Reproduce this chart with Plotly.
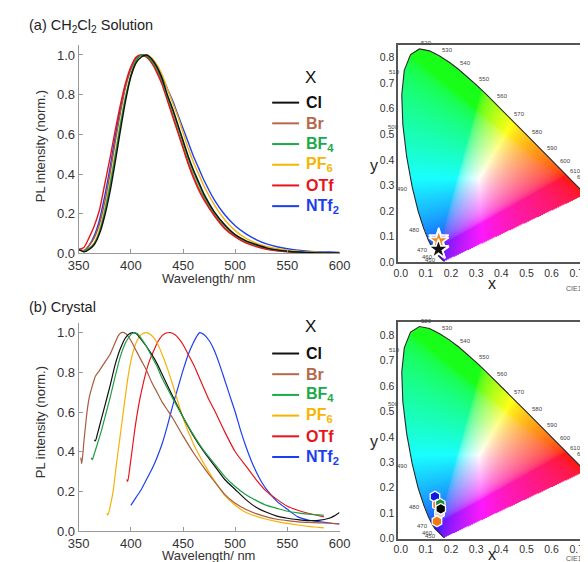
import numpy as np
import plotly.graph_objects as go
import zlib, struct, base64

# ---------------- data ----------------
SERIES = ["Cl", "Br", "BF4", "PF6", "OTf", "NTf2"]
LABELS = ["Cl", "Br", "BF<sub>4</sub>", "PF<sub>6</sub>", "OTf", "NTf<sub>2</sub>"]
COLORS = ["#111111", "#a85a3c", "#1f9e45", "#f5b20a", "#e8141c", "#1c3ff0"]
LEG_COLORS = ["#111111", "#b5694c", "#1aaa4a", "#f7b500", "#e8141c", "#1a3ff2"]

# (a) CH2Cl2 solution spectra
wl_sol = [350, 355, 360, 365, 370, 375, 380, 385, 390, 395, 400, 405, 410, 415, 420, 425,
          430, 435, 440, 445, 450, 455, 460, 465, 470, 480, 490, 500, 510, 520, 530, 540,
          550, 560, 570, 580, 590, 600]
sol_Cl = [0.02, 0.008, 0.02, 0.045, 0.10, 0.19, 0.31, 0.46, 0.62, 0.77, 0.89, 0.96, 0.99, 1.0,
          0.98, 0.94, 0.88, 0.80, 0.73, 0.65, 0.57, 0.49, 0.42, 0.36, 0.30, 0.21, 0.145, 0.095,
          0.065, 0.045, 0.028, 0.018, 0.011, 0.007, 0.005, 0.003, 0.002, 0.002]
sol_Br = [0.02, 0.015, 0.04, 0.08, 0.15, 0.26, 0.40, 0.56, 0.71, 0.84, 0.93, 0.98, 1.0, 0.99,
          0.96, 0.92, 0.86, 0.78, 0.70, 0.62, 0.54, 0.46, 0.39, 0.33, 0.28, 0.195, 0.13, 0.087,
          0.057, 0.037, 0.024, 0.015, 0.01, 0.006, 0.004, 0.003, 0.002, 0.002]
sol_BF4 = [0.02, 0.01, 0.025, 0.05, 0.11, 0.21, 0.34, 0.49, 0.65, 0.79, 0.90, 0.97, 1.0, 0.995,
           0.97, 0.93, 0.87, 0.79, 0.72, 0.64, 0.56, 0.48, 0.41, 0.35, 0.29, 0.205, 0.14, 0.093,
           0.062, 0.042, 0.027, 0.017, 0.011, 0.007, 0.005, 0.003, 0.002, 0.002]
sol_PF6 = [0.02, 0.01, 0.025, 0.055, 0.12, 0.22, 0.35, 0.50, 0.65, 0.79, 0.89, 0.96, 0.99, 1.0,
           0.985, 0.95, 0.90, 0.83, 0.76, 0.69, 0.61, 0.53, 0.46, 0.40, 0.34, 0.245, 0.17, 0.115,
           0.077, 0.052, 0.035, 0.024, 0.016, 0.011, 0.008, 0.006, 0.004, 0.003]
sol_OTf = [0.02, 0.03, 0.08, 0.14, 0.22, 0.35, 0.48, 0.62, 0.75, 0.86, 0.94, 0.99, 1.0, 0.99,
           0.96, 0.91, 0.85, 0.77, 0.69, 0.61, 0.53, 0.45, 0.38, 0.32, 0.27, 0.19, 0.125, 0.083,
           0.053, 0.034, 0.021, 0.013, 0.008, 0.005, 0.003, 0.002, 0.001, 0.001]
sol_NTf2 = [0.02, 0.01, 0.04, 0.09, 0.17, 0.29, 0.43, 0.59, 0.73, 0.85, 0.93, 0.985, 1.0, 0.99,
            0.97, 0.94, 0.89, 0.83, 0.77, 0.70, 0.63, 0.56, 0.49, 0.43, 0.37, 0.27, 0.195, 0.14,
            0.10, 0.07, 0.048, 0.034, 0.024, 0.017, 0.012, 0.009, 0.007, 0.005]

# (b) crystal spectra
wl_cr_Cl = [365, 366, 368, 371, 375, 380, 385, 390, 395, 399, 402, 405, 410, 415, 420, 425, 430,
            440, 450, 460, 470, 480, 490, 500, 510, 520, 530, 540, 550, 560, 570, 580, 590, 595, 600]
cr_Cl = [0.46, 0.455, 0.49, 0.55, 0.63, 0.73, 0.84, 0.92, 0.975, 0.995, 1.0, 0.995, 0.965, 0.93,
         0.89, 0.845, 0.79, 0.68, 0.575, 0.48, 0.40, 0.33, 0.26, 0.21, 0.16, 0.12, 0.095, 0.076,
         0.065, 0.058, 0.053, 0.054, 0.065, 0.077, 0.094]
wl_cr_Br = [352, 353, 355, 358, 360, 363, 366, 370, 375, 380, 385, 388, 391, 395, 400, 405, 410,
            415, 420, 425, 430, 435, 440, 450, 460, 470, 480, 490, 500, 510, 520, 530, 540, 550,
            560, 570, 580, 590, 600]
cr_Br = [0.37, 0.34, 0.45, 0.60, 0.67, 0.73, 0.78, 0.81, 0.85, 0.89, 0.95, 0.985, 1.0, 0.995,
         0.96, 0.91, 0.86, 0.81, 0.75, 0.70, 0.65, 0.61, 0.57, 0.48, 0.395, 0.32, 0.25, 0.185,
         0.14, 0.11, 0.088, 0.072, 0.06, 0.053, 0.047, 0.044, 0.042, 0.04, 0.037]
wl_cr_BF4 = [362, 363, 365, 368, 372, 376, 380, 385, 390, 395, 400, 403, 406, 410, 415, 420, 425,
             430, 440, 450, 460, 470, 480, 490, 500, 510, 520, 530, 540, 550, 560, 570, 580, 585]
cr_BF4 = [0.37, 0.36, 0.39, 0.44, 0.51, 0.59, 0.67, 0.78, 0.88, 0.95, 0.99, 1.0, 0.995, 0.97,
          0.93, 0.88, 0.83, 0.77, 0.67, 0.575, 0.485, 0.405, 0.34, 0.275, 0.225, 0.185, 0.155,
          0.13, 0.115, 0.10, 0.092, 0.086, 0.082, 0.08]
wl_cr_PF6 = [377, 378, 380, 383, 386, 389, 392, 395, 398, 402, 406, 410, 415, 420, 425, 430, 435,
             440, 450, 460, 470, 480, 490, 500, 510, 520, 530, 540, 550, 560, 570, 580, 585]
cr_PF6 = [0.09, 0.08, 0.12, 0.20, 0.33, 0.45, 0.57, 0.69, 0.80, 0.90, 0.96, 0.99, 1.0, 0.985,
          0.95, 0.89, 0.82, 0.74, 0.57, 0.44, 0.34, 0.255, 0.18, 0.13, 0.095, 0.075, 0.06, 0.048,
          0.039, 0.031, 0.024, 0.019, 0.016]
wl_cr_OTf = [396, 397, 399, 401, 404, 407, 410, 414, 418, 422, 426, 430, 434, 438, 442, 446, 450,
             455, 460, 465, 470, 475, 480, 490, 500, 510, 520, 530, 540, 550, 560, 570, 585]
cr_OTf = [0.26, 0.25, 0.32, 0.40, 0.52, 0.62, 0.70, 0.79, 0.86, 0.91, 0.955, 0.985, 0.998, 1.0,
          0.99, 0.97, 0.94, 0.89, 0.84, 0.78, 0.72, 0.66, 0.61, 0.50, 0.40, 0.33, 0.26, 0.20,
          0.16, 0.125, 0.105, 0.09, 0.072]
wl_cr_NTf2 = [400, 405, 410, 415, 420, 425, 430, 435, 440, 445, 450, 455, 460, 463, 466, 470, 475,
              480, 485, 490, 495, 500, 505, 510, 515, 520, 525, 530, 540, 550, 560, 570, 580, 590, 600]
cr_NTf2 = [0.13, 0.17, 0.21, 0.26, 0.31, 0.37, 0.44, 0.53, 0.63, 0.72, 0.81, 0.89, 0.95, 0.98,
           1.0, 0.99, 0.96, 0.91, 0.84, 0.76, 0.68, 0.60, 0.51, 0.43, 0.36, 0.30, 0.25, 0.21,
           0.15, 0.11, 0.072, 0.056, 0.048, 0.041, 0.036]

# CIE 1931 spectral locus
LOCUS_NM = [380, 390, 400, 410, 420, 430, 440, 450, 460, 465, 470, 475, 480, 485, 490, 495, 500,
            505, 510, 515, 520, 525, 530, 535, 540, 545, 550, 555, 560, 565, 570, 575, 580, 585,
            590, 595, 600, 605, 610, 615, 620, 625, 630, 640, 650, 660, 680, 700]
LOCUS_X = [0.1741, 0.1738, 0.1733, 0.1726, 0.1714, 0.1689, 0.1644, 0.1566, 0.1440, 0.1355, 0.1241,
           0.1096, 0.0913, 0.0687, 0.0454, 0.0235, 0.0082, 0.0039, 0.0139, 0.0389, 0.0743, 0.1142,
           0.1547, 0.1929, 0.2296, 0.2658, 0.3016, 0.3373, 0.3731, 0.4087, 0.4441, 0.4788, 0.5125,
           0.5448, 0.5752, 0.6029, 0.6270, 0.6482, 0.6658, 0.6801, 0.6915, 0.7006, 0.7079, 0.7190,
           0.7260, 0.7300, 0.7334, 0.7347]
LOCUS_Y = [0.0050, 0.0049, 0.0048, 0.0048, 0.0051, 0.0069, 0.0109, 0.0177, 0.0297, 0.0399, 0.0578,
           0.0868, 0.1327, 0.2007, 0.2950, 0.4127, 0.5384, 0.6548, 0.7502, 0.8120, 0.8338, 0.8262,
           0.8059, 0.7816, 0.7543, 0.7243, 0.6923, 0.6589, 0.6245, 0.5896, 0.5547, 0.5202, 0.4866,
           0.4544, 0.4242, 0.3965, 0.3725, 0.3514, 0.3340, 0.3197, 0.3083, 0.2993, 0.2920, 0.2809,
           0.2740, 0.2700, 0.2666, 0.2653]
LOCUS_LABELS = [450, 460, 470, 480, 490, 500, 510, 520, 530, 540, 550, 560, 570, 580, 590, 600,
                610, 620, 630]

# CIE coordinates of the emission colours
sol_cie_names = ["Cl", "Br", "BF4", "OTf", "NTf2", "PF6", "Cl"]
sol_cie_x = [0.150, 0.151, 0.150, 0.152, 0.151, 0.151, 0.150]
sol_cie_y = [0.051, 0.050, 0.052, 0.049, 0.094, 0.084, 0.051]
sol_cie_col = ["#111111", "#a85a3c", "#1f9e45", "#e8141c", "#c9b9f5", "#f08a1c", "#111111"]

cr_cie_names = ["NTf2", "OTf", "Br", "BF4", "Cl", "PF6"]
cr_cie_x = [0.136, 0.146, 0.154, 0.157, 0.159, 0.144]
cr_cie_y = [0.165, 0.133, 0.100, 0.136, 0.117, 0.068]
cr_cie_col = ["#1414e6", "#e8603c", "#d9d2d2", "#1f8f35", "#050505", "#f07a10"]

# ---------------- helpers ----------------
W_PX, H_PX = 588, 562
def px(xp):
    return xp / W_PX
def py(yp):
    return 1 - yp / H_PX

FONT = "Liberation Sans, Arial, Helvetica, sans-serif"
CIE_XR = [-0.01, 0.733]
CIE_YR = [0.0, 0.85]

def cie_png():
    w, h = 200, 230
    xs = CIE_XR[0] + (np.arange(w) + 0.5) * (CIE_XR[1] - CIE_XR[0]) / w
    ys = CIE_YR[1] - (np.arange(h) + 0.5) * (CIE_YR[1] - CIE_YR[0]) / h
    gx, gy = np.meshgrid(xs, ys)
    gys = np.maximum(gy, 1e-4)
    X = gx / gys
    Y = np.ones_like(gx)
    Z = (1 - gx - gys) / gys
    r = 3.2406 * X - 1.5372 * Y - 0.4986 * Z
    g = -0.9689 * X + 1.8758 * Y + 0.0415 * Z
    b = 0.0557 * X - 0.2040 * Y + 1.0570 * Z
    rgb = np.clip(np.stack([r, g, b], -1), 0, None)
    rgb = rgb / np.maximum(rgb.max(-1, keepdims=True), 1e-9)
    rgb = np.where(rgb <= 0.0031308, 12.92 * rgb, 1.055 * np.power(rgb, 1 / 2.4) - 0.055)
    rgb = 0.9 * rgb + 0.1  # slight wash toward white, as in the printed diagram
    inside = np.zeros(gx.shape, bool)
    pxs, pys = LOCUS_X, LOCUS_Y
    n = len(pxs)
    j = n - 1
    for i in range(n):
        xi, yi, xj, yj = pxs[i], pys[i], pxs[j], pys[j]
        cond = ((yi > gy) != (yj > gy)) & (gx < (xj - xi) * (gy - yi) / (yj - yi + 1e-12) + xi)
        inside ^= cond
        j = i
    rgba = np.zeros((h, w, 4), np.uint8)
    rgba[..., :3] = (np.clip(rgb, 0, 1) * 255).astype(np.uint8)
    rgba[..., 3] = np.where(inside, 255, 0)
    raw = b"".join(b"\x00" + rgba[k].tobytes() for k in range(h))
    def chunk(t, d):
        c = struct.pack(">I", len(d)) + t + d
        return c + struct.pack(">I", zlib.crc32(t + d) & 0xffffffff)
    png = (b"\x89PNG\r\n\x1a\n" + chunk(b"IHDR", struct.pack(">IIBBBBB", w, h, 8, 6, 0, 0, 0))
           + chunk(b"IDAT", zlib.compress(raw, 9)) + chunk(b"IEND", b""))
    return "data:image/png;base64," + base64.b64encode(png).decode()

# ---------------- figure ----------------
fig = go.Figure()

sol = [sol_Cl, sol_Br, sol_BF4, sol_PF6, sol_OTf, sol_NTf2]
draw_order = [5, 3, 1, 4, 2, 0]
for k in draw_order:
    fig.add_trace(go.Scatter(x=wl_sol, y=sol[k], mode="lines", line=dict(color=COLORS[k], width=1.4, shape="spline", smoothing=0.6),
                             xaxis="x", yaxis="y", showlegend=False, hoverinfo="skip"))

cr_wl = [wl_cr_Cl, wl_cr_Br, wl_cr_BF4, wl_cr_PF6, wl_cr_OTf, wl_cr_NTf2]
cr = [cr_Cl, cr_Br, cr_BF4, cr_PF6, cr_OTf, cr_NTf2]
for k in [5, 4, 3, 1, 0, 2]:
    fig.add_trace(go.Scatter(x=cr_wl[k], y=cr[k], mode="lines", line=dict(color=COLORS[k], width=1.2, shape="spline", smoothing=0.6),
                             xaxis="x2", yaxis="y2", showlegend=False, hoverinfo="skip"))

img = cie_png()
for xa, ya in [("x3", "y3"), ("x4", "y4")]:
    fig.add_layout_image(dict(source=img, xref=xa, yref=ya, x=CIE_XR[0], y=CIE_YR[1],
                              sizex=CIE_XR[1] - CIE_XR[0], sizey=CIE_YR[1] - CIE_YR[0],
                              xanchor="left", yanchor="top", sizing="stretch", layer="below"))
    fig.add_trace(go.Scatter(x=LOCUS_X, y=LOCUS_Y, mode="lines", line=dict(color="#2a2a2a", width=1.1),
                             xaxis=xa, yaxis=ya, showlegend=False, hoverinfo="skip"))

fig.add_trace(go.Scatter(x=sol_cie_x, y=sol_cie_y, mode="markers", xaxis="x3", yaxis="y3",
                         marker=dict(symbol="star", size=15, color=sol_cie_col, line=dict(color="white", width=1.5)),
                         showlegend=False, hoverinfo="skip"))
fig.add_trace(go.Scatter(x=cr_cie_x, y=cr_cie_y, mode="markers", xaxis="x4", yaxis="y4",
                         marker=dict(symbol="hexagon", size=11, color=cr_cie_col, line=dict(color="white", width=1.3)),
                         showlegend=False, hoverinfo="skip"))

ann = []
# wavelength labels on the locus
for xa, ya in [("x3", "y3"), ("x4", "y4")]:
    for nm in LOCUS_LABELS:
        i = LOCUS_NM.index(nm)
        left = nm <= 510
        ann.append(dict(x=LOCUS_X[i], y=LOCUS_Y[i], xref=xa, yref=ya, text=str(nm), showarrow=False,
                        xanchor="right" if left else "left", yanchor="middle" if left else "bottom",
                        xshift=-2 if left else 0, yshift=-2 if left else 1,
                        font=dict(size=6, color="#444", family=FONT)))

def spec_axes(xn, yn, top, bottom):
    xa = dict(range=[350, 600], domain=[px(62), px(333)], anchor=yn, tickvals=[350, 400, 450, 500, 550, 600],
              showline=True, linecolor="#999", linewidth=1, ticks="inside", ticklen=4, tickcolor="#999",
              showgrid=False, zeroline=False, tickfont=dict(size=13, color="#333", family=FONT))
    ya = dict(range=[0, 1.05], domain=[py(bottom), py(top)], anchor=xn, tickvals=[0, 0.2, 0.4, 0.6, 0.8, 1.0],
              tickformat=".1f", showline=True, linecolor="#999", linewidth=1, ticks="inside", ticklen=4,
              tickcolor="#999", showgrid=False, zeroline=False, tickfont=dict(size=13, color="#333", family=FONT))
    return xa, ya

def cie_axes(xn, yn, top, bottom):
    xa = dict(range=CIE_XR, domain=[px(394), 1.0], anchor=yn, tickvals=[0, 0.1, 0.2, 0.3, 0.4, 0.5, 0.6, 0.7],
              tickformat=".1f", showline=True, mirror=True, linecolor="#555", linewidth=1.5, ticks="",
              showgrid=False, zeroline=False, tickfont=dict(size=10.5, color="#333", family=FONT))
    ya = dict(range=CIE_YR, domain=[py(bottom), py(top)], anchor=xn, tickvals=[0, 0.1, 0.2, 0.3, 0.4, 0.5, 0.6, 0.7, 0.8],
              tickformat=".1f", showline=True, mirror=False, linecolor="#555", linewidth=1.5, ticks="",
              showgrid=False, zeroline=False, tickfont=dict(size=10.5, color="#333", family=FONT))
    return xa, ya

x1, y1 = spec_axes("x", "y", 37.6, 249)
x2, y2 = spec_axes("x2", "y2", 319.2, 530.7)
x3, y3 = cie_axes("x3", "y3", 37.3, 258)
x4, y4 = cie_axes("x4", "y4", 319, 538.3)

# titles and axis labels
ann.append(dict(x=px(8), y=py(18), xref="paper", yref="paper", text="(a) CH<sub>2</sub>Cl<sub>2</sub> Solution",
                showarrow=False, xanchor="left", yanchor="middle", font=dict(size=14.5, color="#222", family=FONT)))
ann.append(dict(x=px(8), y=py(303), xref="paper", yref="paper", text="(b) Crystal",
                showarrow=False, xanchor="left", yanchor="middle", font=dict(size=14.5, color="#222", family=FONT)))
for yc, xt in [(140, 274), (420, 555.5)]:
    ann.append(dict(x=px(22), y=py(yc), xref="paper", yref="paper", text="PL intensity (norm.)", textangle=-90,
                    showarrow=False, xanchor="center", yanchor="middle", font=dict(size=13, color="#333", family=FONT)))
    ann.append(dict(x=px(197), y=py(xt), xref="paper", yref="paper", text="Wavelength/ nm",
                    showarrow=False, xanchor="center", yanchor="middle", font=dict(size=13, color="#333", family=FONT)))
for yy, xx in [(160, 279), (440, 554)]:
    ann.append(dict(x=px(369), y=py(yy), xref="paper", yref="paper", text="y", showarrow=False,
                    xanchor="center", yanchor="middle", font=dict(size=16, color="#222", family=FONT)))
    ann.append(dict(x=px(491), y=py(xx), xref="paper", yref="paper", text="x", showarrow=False,
                    xanchor="center", yanchor="middle", font=dict(size=16, color="#222", family=FONT)))
for yy in [285, 558]:
    ann.append(dict(x=px(566), y=py(yy), xref="paper", yref="paper", text="CIE1931", showarrow=False,
                    xanchor="left", yanchor="middle", font=dict(size=7, color="#555", family=FONT)))

# legends
shapes = []
for hy, y0 in [(70, 96), (323, 350.5)]:
    ann.append(dict(x=px(303), y=py(hy), xref="paper", yref="paper", text="X", showarrow=False,
                    xanchor="center", yanchor="middle", font=dict(size=17, color="#111", family=FONT)))
    for k, lab in enumerate(LABELS):
        yk = y0 + 21 * k
        shapes.append(dict(type="line", xref="paper", yref="paper", x0=px(263), x1=px(291), y0=py(yk), y1=py(yk),
                           line=dict(color=LEG_COLORS[k], width=2)))
        ann.append(dict(x=px(296), y=py(yk), xref="paper", yref="paper", text="<b>" + lab + "</b>", showarrow=False,
                        xanchor="left", yanchor="middle", font=dict(size=16, color=LEG_COLORS[k], family=FONT)))

fig.update_layout(width=W_PX, height=H_PX, margin=dict(l=0, r=0, t=0, b=0), autosize=False,
                  paper_bgcolor="white", plot_bgcolor="rgba(0,0,0,0)",
                  xaxis=x1, yaxis=y1, xaxis2=x2, yaxis2=y2, xaxis3=x3, yaxis3=y3, xaxis4=x4, yaxis4=y4,
                  annotations=ann, shapes=shapes, showlegend=False, font=dict(family=FONT))

fig.write_html("out.html")
